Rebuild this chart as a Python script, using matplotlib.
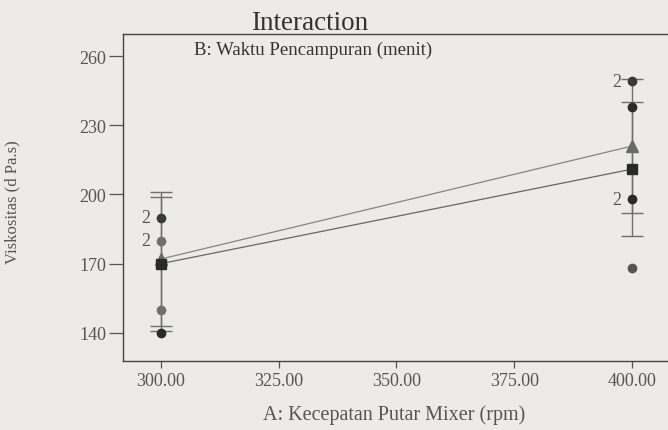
import matplotlib
matplotlib.use("Agg")
import matplotlib.pyplot as plt

plt.rcParams['font.family'] = ['Liberation Serif', 'DejaVu Serif']

# factor A levels (rpm)
speed = [300, 400]
# predicted means for each level of B
mean_low = [170, 211]    # square series
mean_high = [172, 221]   # triangle series
lsd_half = 29            # LSD bar half width

# design points: (x, y, count)
design_x = [300, 300, 300, 300, 400, 400, 400, 400]
design_y = [190, 180, 150, 140, 249, 238, 198, 168]
design_n = [2, 2, 1, 1, 2, 1, 2, 1]
design_c = ['#3a3a3a', '#707070', '#707070', '#2a2a2a',
            '#3a3a3a', '#2a2a2a', '#2a2a2a', '#555555']

bg = '#ecebe7'
fig = plt.figure(figsize=(6.68, 4.31), dpi=100, facecolor=bg)
ax = fig.add_axes([0.184, 0.161, 0.816, 0.758], facecolor=bg)

ax.plot(speed, mean_high, color='#858585', lw=0.9, marker='^', ms=8,
        mfc='#6a6a6a', mec='#6a6a6a', zorder=3)
ax.plot(speed, mean_low, color='#666666', lw=0.9, marker='s', ms=7,
        mfc='#2a2a2a', mec='#2a2a2a', zorder=4)

for means in (mean_low, mean_high):
    ax.errorbar(speed, means, yerr=lsd_half, fmt='none', ecolor='#6f6f6f',
                elinewidth=1.0, capsize=8, capthick=1.0, zorder=2)

for x, y, n, c in zip(design_x, design_y, design_n, design_c):
    ax.plot(x, y, 'o', ms=6, color=c, zorder=5)
    if n > 1:
        ax.text(x - 2.3, y, str(n), ha='right', va='center',
                fontsize=13, color='#555555')

ax.set_xlim(292, 407.6)
ax.set_ylim(128, 269.6)
ax.set_xticks([300, 325, 350, 375, 400])
ax.set_xticklabels(['300.00', '325.00', '350.00', '375.00', '400.00'])
ax.set_yticks([140, 170, 200, 230, 260])

for s in ('top', 'left', 'bottom'):
    ax.spines[s].set_color('#444444')
    ax.spines[s].set_linewidth(1.0)
ax.spines['right'].set_visible(False)
ax.tick_params(axis='y', direction='out', length=10, width=0.9,
               colors='#555555', labelsize=13, pad=2)
ax.tick_params(axis='x', direction='out', length=5, width=0.9,
               colors='#555555', labelsize=13, pad=3)

ax.text(0.349, 0.954, 'B: Waktu Pencampuran (menit)', transform=ax.transAxes,
        ha='center', va='center', fontsize=13.5, color='#333333')
fig.text(0.463, 0.945, 'Interaction', ha='center', va='center',
         fontsize=19.5, color='#333333')
fig.text(0.59, 0.037, 'A: Kecepatan Putar Mixer (rpm)', ha='center',
         va='center', fontsize=14.5, color='#555555')
fig.text(0.018, 0.53, 'Viskositas (d Pa.s)', rotation=90, ha='center',
         va='center', fontsize=12, color='#555555')

fig.savefig('out.png', dpi=100, facecolor=bg)
